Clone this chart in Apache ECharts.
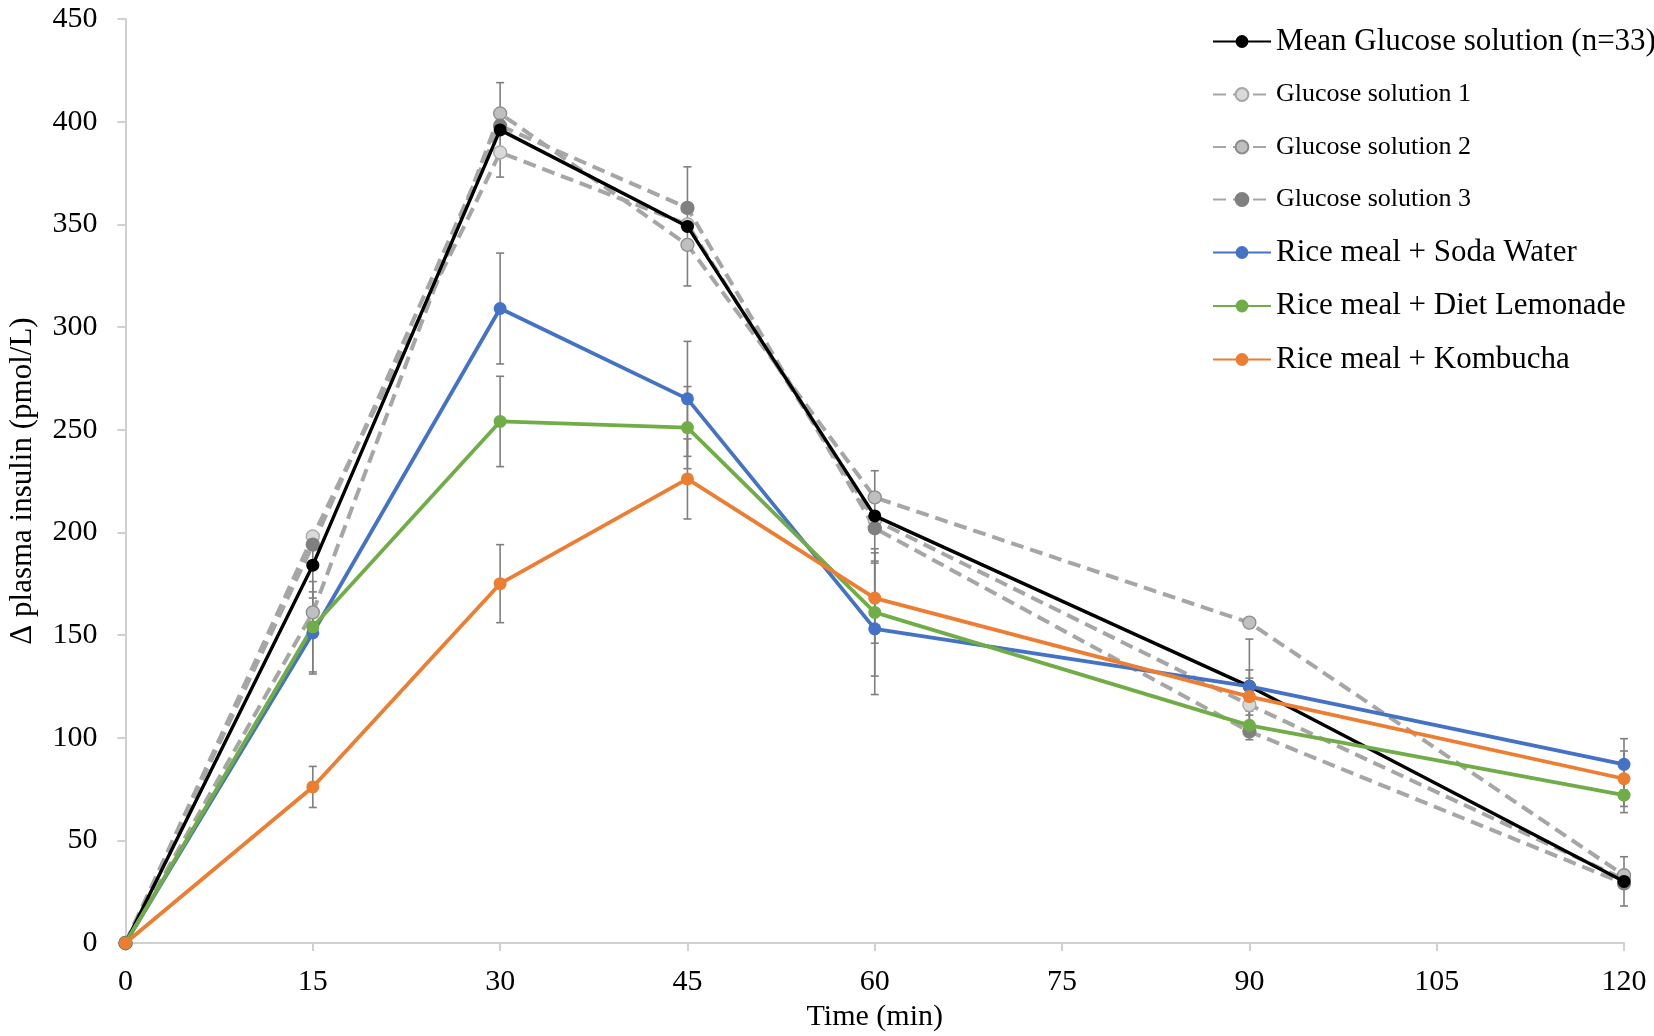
<!DOCTYPE html>
<html>
<head>
<meta charset="utf-8">
<script src="https://cdn.jsdelivr.net/npm/echarts@6/dist/echarts.min.js"></script>
<style>
html,body{margin:0;padding:0;background:#fff;}
#chart{width:1654px;height:1036px;}
</style>
</head>
<body>
<div id="chart"></div>
<script>
const times = [0, 15, 30, 45, 60, 90, 120];
const meanGlucose = [0, 184, 396, 349, 208, 125, 30];
const meanGlucoseErr = [0, 16, 23, 29, 22, 23, 12];
const glucose1 = [0, 198, 385, 350, 206, 116, 31];
const glucose2 = [0, 161, 404, 340, 217, 156, 33];
const glucose3 = [0, 194, 398, 358, 202, 103, 29];
const sodaWater = [0, 151, 309, 265, 153, 125, 87];
const sodaWaterErr = [0, 20, 27, 28, 32, 8, 12.5];
const dietLemonade = [0, 154, 254, 251, 161, 106, 72];
const dietLemonadeErr = [0, 22, 22, 20, 31, 7, 8.5];
const kombucha = [0, 76, 175, 226, 168, 120, 80];
const kombuchaErr = [0, 10, 19, 19.5, 22, 9, 13.5];
const xTicks = [0, 15, 30, 45, 60, 75, 90, 105, 120];
const yTicks = [0, 50, 100, 150, 200, 250, 300, 350, 400, 450];

const names = {
  mean: 'Mean Glucose solution (n=33)',
  g1: 'Glucose solution 1',
  g2: 'Glucose solution 2',
  g3: 'Glucose solution 3',
  soda: 'Rice meal + Soda Water',
  lemon: 'Rice meal + Diet Lemonade',
  kom: 'Rice meal + Kombucha'
};

const FONT = "'Liberation Serif', 'Times New Roman', serif";

function pairs(vals) { return times.map((t, i) => [t, vals[i]]); }
function errs(vals, e) {
  const out = [];
  times.forEach((t, i) => { if (e[i] > 0) out.push([t, vals[i] - e[i], vals[i] + e[i]]); });
  return out;
}

function errorSeries(vals, e) {
  return {
    type: 'custom',
    data: errs(vals, e),
    encode: { x: 0, y: [1, 2] },
    z: 1,
    silent: true,
    renderItem: function (params, api) {
      const x = api.value(0);
      const top = api.coord([x, api.value(2)]);
      const bot = api.coord([x, api.value(1)]);
      const w = 4;
      const st = { stroke: '#7f7f7f', lineWidth: 1.6 };
      return {
        type: 'group',
        children: [
          { type: 'line', shape: { x1: top[0], y1: top[1], x2: bot[0], y2: bot[1] }, style: st },
          { type: 'line', shape: { x1: top[0] - w, y1: top[1], x2: top[0] + w, y2: top[1] }, style: st },
          { type: 'line', shape: { x1: bot[0] - w, y1: bot[1], x2: bot[0] + w, y2: bot[1] }, style: st }
        ]
      };
    }
  };
}

function dashed(name, vals, fill, border) {
  return {
    name: name, type: 'line', data: pairs(vals), z: 2,
    symbol: 'circle', symbolSize: 13,
    lineStyle: { color: '#a6a6a6', width: 4, type: [13, 7] },
    itemStyle: { color: fill, borderColor: border, borderWidth: 1.3 }
  };
}
function solid(name, vals, color, width, z) {
  return {
    name: name, type: 'line', data: pairs(vals), z: z,
    symbol: 'circle', symbolSize: 13,
    lineStyle: { color: color, width: width },
    itemStyle: { color: color }
  };
}

const chart = echarts.init(document.getElementById('chart'));
chart.setOption({
  animation: false,
  backgroundColor: '#ffffff',
  grid: { left: 125.5, right: 30, top: 19, bottom: 93, containLabel: false, outerBoundsMode: 'none' },
  legend: {
    orient: 'vertical',
    left: 1207,
    top: 21,
    itemWidth: 58,
    itemHeight: 16,
    itemGap: 22.5,
    textStyle: { fontFamily: FONT, color: '#000', fontSize: 31, lineHeight: 30 },
    data: [
      { name: names.mean },
      { name: names.g1, textStyle: { fontSize: 26, lineHeight: 30 } },
      { name: names.g2, textStyle: { fontSize: 26, lineHeight: 30 } },
      { name: names.g3, textStyle: { fontSize: 26, lineHeight: 30 } },
      { name: names.soda },
      { name: names.lemon },
      { name: names.kom }
    ]
  },
  xAxis: {
    type: 'value', min: xTicks[0], max: xTicks[xTicks.length - 1], interval: 15,
    name: 'Time (min)', nameLocation: 'middle', nameGap: 49,
    nameTextStyle: { fontFamily: FONT, fontSize: 30, color: '#000' },
    axisLine: { show: true, lineStyle: { color: '#d0d0d0', width: 2 } },
    axisTick: { show: true, length: 8, lineStyle: { color: '#d0d0d0', width: 2 } },
    axisLabel: { fontFamily: FONT, fontSize: 30, color: '#000', margin: 24 },
    splitLine: { show: false }
  },
  yAxis: {
    type: 'value', min: yTicks[0], max: yTicks[yTicks.length - 1], interval: 50,
    name: 'Δ plasma insulin (pmol/L)', nameLocation: 'middle', nameGap: 87,
    nameTextStyle: { fontFamily: FONT, fontSize: 31, color: '#000' },
    axisLine: { show: true, lineStyle: { color: '#d0d0d0', width: 2 } },
    axisTick: { show: true, length: 8, lineStyle: { color: '#d0d0d0', width: 2 } },
    axisLabel: { fontFamily: FONT, fontSize: 30, color: '#000', margin: 28 },
    splitLine: { show: false }
  },
  series: [
    errorSeries(meanGlucose, meanGlucoseErr),
    errorSeries(sodaWater, sodaWaterErr),
    errorSeries(dietLemonade, dietLemonadeErr),
    errorSeries(kombucha, kombuchaErr),
    dashed(names.g1, glucose1, '#d9d9d9', '#a6a6a6'),
    dashed(names.g2, glucose2, '#bfbfbf', '#8c8c8c'),
    dashed(names.g3, glucose3, '#808080', '#808080'),
    solid(names.mean, meanGlucose, '#000000', 3.4, 3),
    solid(names.soda, sodaWater, '#4472c4', 3.8, 4),
    solid(names.lemon, dietLemonade, '#70ad47', 3.8, 4),
    solid(names.kom, kombucha, '#ed7d31', 3.8, 4)
  ]
});
</script>
</body>
</html>
